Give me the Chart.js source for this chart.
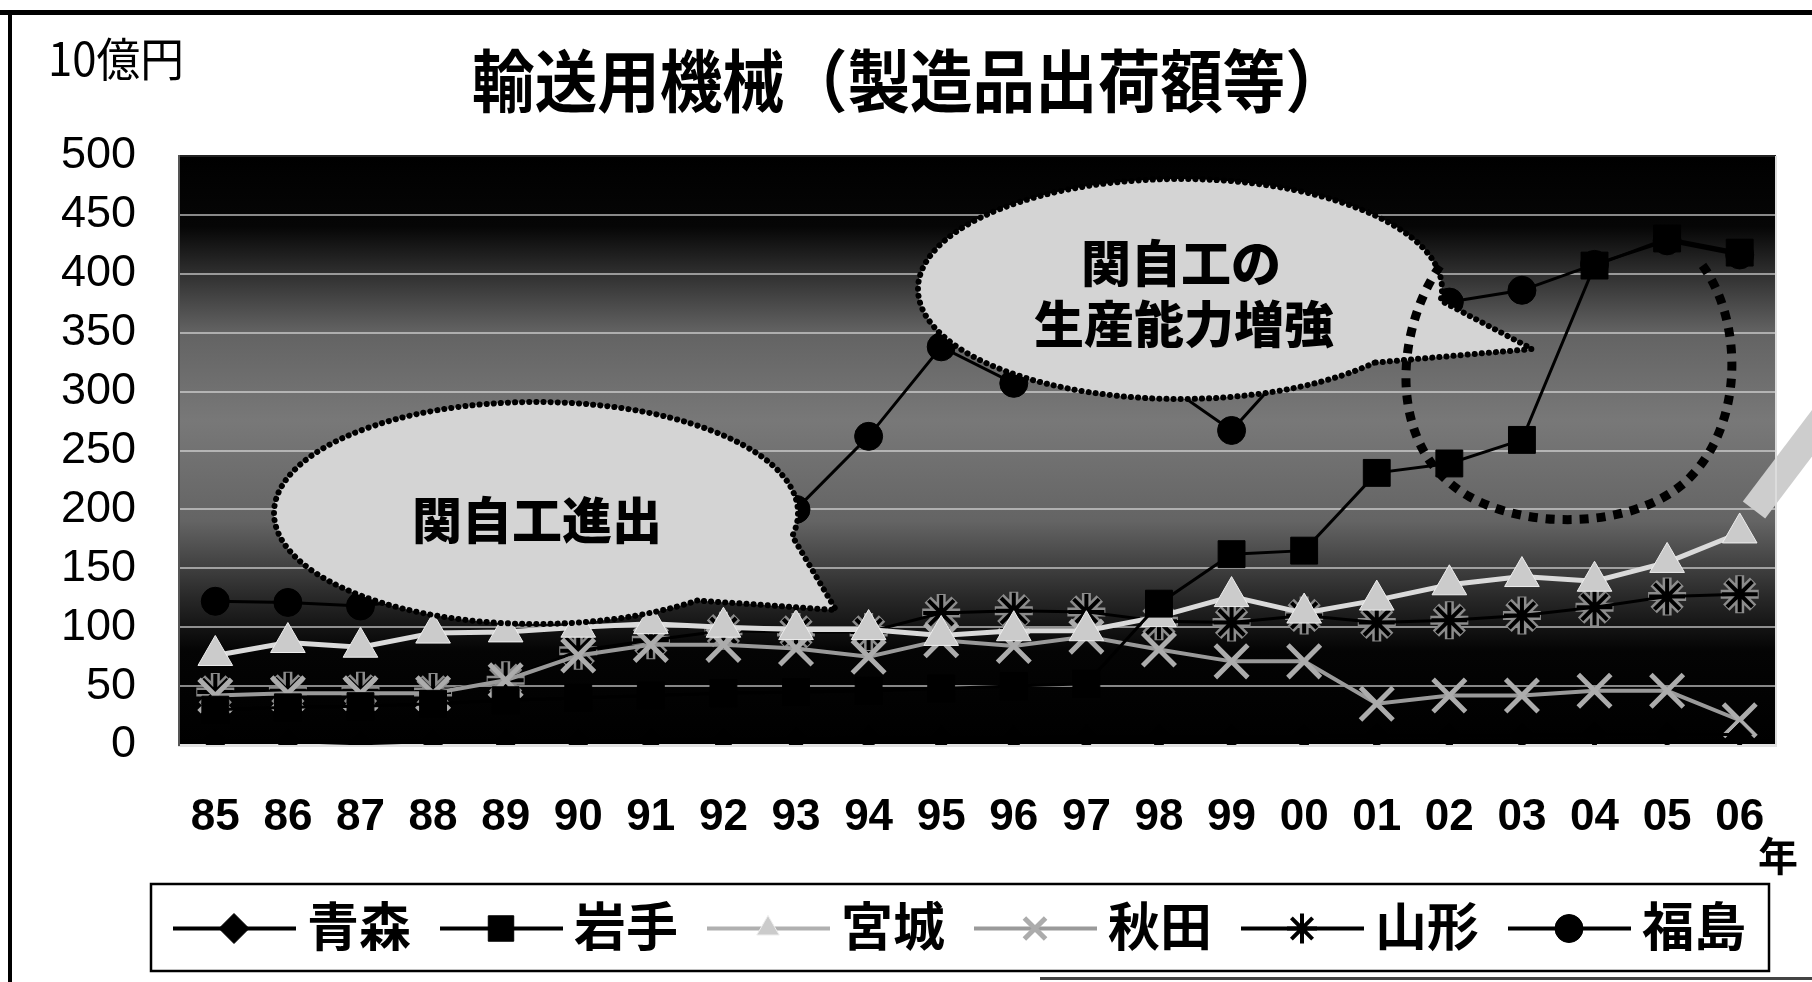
<!DOCTYPE html>
<html lang="ja">
<head>
<meta charset="utf-8">
<title>輸送用機械（製造品出荷額等）</title>
<script src="https://cdn.jsdelivr.net/npm/chart.js@4.4.1/dist/chart.umd.min.js"></script>
<style>
  html, body { margin: 0; padding: 0; background: #fff; }
  #chart { display: block; }
</style>
</head>
<body>
<canvas id="chart" width="1812" height="982"></canvas>
<script>
// 横軸（年）
const years = ['85', '86', '87', '88', '89', '90', '91', '92', '93', '94', '95',
               '96', '97', '98', '99', '00', '01', '02', '03', '04', '05', '06'];

// 県別の出荷額（単位：10億円）
const aomori    = [3, 3, 1, 3, 3, 3, 4, 4, 5, 6, 6, 6, 7, 7, 7, 7, 8, 8, 8, 9, 9, 9];
const iwate     = [30, 32, 33, 35, 38, 40, 42, 44, 45, 46, 48, 50, 52, 120, 162, 165, 231, 239, 259, 407, 430, 418];
const miyagi    = [76, 87, 83, 95, 96, 100, 103, 100, 98, 98, 93, 97, 97, 109, 126, 112, 123, 136, 143, 139, 155, 180];
const akita     = [42, 44, 44, 44, 55, 76, 85, 85, 82, 75, 89, 84, 92, 81, 71, 71, 35, 42, 42, 46, 46, 21];
const yamagata  = [45, 46, 46, 45, 55, 80, 89, 97, 96, 96, 112, 114, 113, 105, 104, 110, 104, 106, 110, 117, 126, 128];
const fukushima = [122, 121, 118, 125, 135, 148, 160, 178, 200, 262, 338, 307, 335, 310, 267, 335, 360, 376, 386, 408, 428, 416];

// 縦軸
const yMin = 0, yMax = 500, yStep = 50;

const prefNames = ['青森', '岩手', '宮城', '秋田', '山形', '福島'];

const CJK = '"Noto Sans CJK JP", "Noto Sans", sans-serif';
const NUM = '"Liberation Sans", Arial, sans-serif';

// 凡例用の線の色と記号の大きさ
const legendLine = ['#000', '#000', '#b0b0b0', '#9a9a9a', '#000', '#000'];
const legendRadius = [15, 18, 13, 15, 15, 14];

// 横に少し詰めた文字
function narrowText(ctx, text, x, y, sx) {
  ctx.save();
  ctx.translate(x, y);
  ctx.scale(sx, 1);
  ctx.fillText(text, 0, 0);
  ctx.restore();
}

// 吹き出し（楕円＋しっぽ）
function drawBubble(ctx, cx, cy, rx, ry, a1, a2, tip) {
  ctx.save();
  ctx.beginPath();
  ctx.ellipse(cx, cy, rx, ry, 0, a2 * Math.PI / 180, a1 * Math.PI / 180 + Math.PI * 2);
  ctx.lineTo(tip[0], tip[1]);
  ctx.closePath();
  ctx.fillStyle = '#d4d4d4';
  ctx.fill();
  ctx.setLineDash([0.1, 7]);
  ctx.lineCap = 'round';
  ctx.lineWidth = 6;
  ctx.strokeStyle = '#000';
  ctx.stroke();
  ctx.restore();
}

const decor = {
  id: 'decor',
  beforeDraw(chart) {
    const { ctx, chartArea: a } = chart;
    ctx.save();
    ctx.fillStyle = '#fff';
    ctx.fillRect(0, 0, chart.width, chart.height);

    // 枠線
    ctx.fillStyle = '#000';
    ctx.fillRect(0, 10, chart.width, 5);
    ctx.fillRect(8, 10, 4, chart.height - 10);
    ctx.fillStyle = '#444';
    ctx.fillRect(1040, 977, chart.width - 1040, 3);

    // プロットエリアのグラデーション
    const g = ctx.createLinearGradient(0, a.top, 0, a.bottom);
    g.addColorStop(0, '#000');
    g.addColorStop(0.12, '#060606');
    g.addColorStop(0.3, '#636363');
    g.addColorStop(0.45, '#787878');
    g.addColorStop(0.62, '#646464');
    g.addColorStop(0.75, '#282828');
    g.addColorStop(0.84, '#040404');
    g.addColorStop(1, '#000');
    ctx.fillStyle = g;
    ctx.fillRect(a.left, a.top, a.right - a.left, a.bottom - a.top);
    ctx.restore();
  },
  afterDatasetsDraw(chart) {
    const { ctx, chartArea: a } = chart;

    drawBubble(ctx, 536, 513, 262, 111, 12, 52, [836, 610]);
    drawBubble(ctx, 1180, 289, 262, 110, 6, 42, [1532, 349]);

    ctx.save();
    ctx.fillStyle = '#000';
    ctx.textAlign = 'center';
    ctx.textBaseline = 'middle';
    ctx.font = `900 50px ${CJK}`;
    ctx.fillText('関自工進出', 537, 520);
    ctx.fillText('関自工の', 1181, 263);
    ctx.fillText('生産能力増強', 1184, 324);

    // 点線の囲み
    ctx.beginPath();
    ctx.moveTo(1440, 266);
    ctx.bezierCurveTo(1395, 330, 1385, 450, 1470, 497);
    ctx.bezierCurveTo(1530, 530, 1630, 528, 1683, 484);
    ctx.bezierCurveTo(1745, 430, 1745, 320, 1700, 262);
    ctx.setLineDash([9, 8]);
    ctx.lineWidth = 9;
    ctx.strokeStyle = '#000';
    ctx.stroke();

    // 宮城を指す矢印
    ctx.setLineDash([]);
    ctx.beginPath();
    ctx.moveTo(1834, 404);
    ctx.lineTo(1754, 510);
    ctx.lineWidth = 28;
    ctx.strokeStyle = '#cdcdcd';
    ctx.stroke();

    // 右端の枠
    ctx.beginPath();
    ctx.moveTo(a.right, a.top);
    ctx.lineTo(a.right, a.bottom);
    ctx.lineWidth = 2;
    ctx.strokeStyle = '#dcdcdc';
    ctx.stroke();
    ctx.restore();
  },
  afterDraw(chart) {
    const ctx = chart.ctx;
    ctx.save();
    ctx.fillStyle = '#000';
    ctx.textBaseline = 'middle';

    ctx.textAlign = 'center';
    ctx.font = `bold 68px ${CJK}`;
    narrowText(ctx, '輸送用機械（製造品出荷額等）', 910, 81, 0.92);

    ctx.textAlign = 'left';
    ctx.font = `46px ${CJK}`;
    narrowText(ctx, '10億円', 48, 59, 0.95);

    ctx.textAlign = 'center';
    ctx.font = `bold 40px ${CJK}`;
    ctx.fillText('年', 1778, 856);

    // 凡例
    const box = { x: 151, y: 884, w: 1618, h: 87 };
    ctx.lineWidth = 2.5;
    ctx.strokeStyle = '#000';
    ctx.strokeRect(box.x, box.y, box.w, box.h);
    const cy = box.y + box.h / 2 + 1;
    prefNames.forEach((name, i) => {
      const ds = chart.data.datasets[i];
      const x0 = 173 + i * 267;
      ctx.beginPath();
      ctx.moveTo(x0, cy);
      ctx.lineTo(x0 + 123, cy);
      ctx.lineWidth = 4;
      ctx.strokeStyle = legendLine[i];
      ctx.stroke();

      ctx.fillStyle = ds.pointBackgroundColor;
      ctx.strokeStyle = ds.pointBorderColor;
      ctx.lineWidth = ds.pointBorderWidth;
      Chart.helpers.drawPoint(ctx, {
        pointStyle: ds.pointStyle,
        radius: legendRadius[i],
        rotation: 0,
        borderWidth: ds.pointBorderWidth
      }, x0 + 61, cy);

      ctx.fillStyle = '#000';
      ctx.textAlign = 'left';
      ctx.font = `bold 52px ${CJK}`;
      ctx.fillText(name, x0 + 134, cy - 2);
    });
    ctx.restore();
  }
};

function series(label, data, opts) {
  return Object.assign({
    label: label,
    data: data,
    fill: false,
    tension: 0,
    pointHoverRadius: 0
  }, opts);
}

new Chart(document.getElementById('chart'), {
  type: 'line',
  data: {
    labels: years,
    datasets: [
      series('青森', aomori, {
        borderColor: '#000', borderWidth: 3,
        pointStyle: 'rectRot', pointRadius: 12,
        pointBackgroundColor: '#000', pointBorderColor: '#000', pointBorderWidth: 1
      }),
      series('岩手', iwate, {
        borderColor: '#000', borderWidth: 3,
        pointStyle: 'rect', pointRadius: 19,
        pointBackgroundColor: '#000', pointBorderColor: '#000', pointBorderWidth: 1
      }),
      series('宮城', miyagi, {
        borderColor: '#dadada', borderWidth: 5,
        pointStyle: 'triangle', pointRadius: 20,
        pointBackgroundColor: '#cbcbcb', pointBorderColor: '#eeeeee', pointBorderWidth: 1
      }),
      series('秋田', akita, {
        borderColor: '#9a9a9a', borderWidth: 4,
        pointStyle: 'crossRot', pointRadius: 23,
        pointBackgroundColor: '#acacac', pointBorderColor: '#acacac', pointBorderWidth: 5
      }),
      series('山形', yamagata, {
        borderColor: '#000', borderWidth: 3,
        pointStyle: 'star', pointRadius: 18,
        pointBackgroundColor: '#000', pointBorderColor: '#000', pointBorderWidth: 4
      }),
      series('福島', fukushima, {
        borderColor: '#000', borderWidth: 3,
        pointStyle: 'circle', pointRadius: 14,
        pointBackgroundColor: '#000', pointBorderColor: '#000', pointBorderWidth: 1
      }),
      // 山形の記号の縁取り（黒地で見えるように）
      series('', yamagata, {
        showLine: false, order: 1,
        pointStyle: 'star', pointRadius: 19,
        pointBackgroundColor: '#8c8c8c', pointBorderColor: '#8c8c8c', pointBorderWidth: 9
      })
    ]
  },
  options: {
    responsive: false,
    animation: false,
    devicePixelRatio: 1,
    layout: { padding: { left: 0, right: 36, top: 156, bottom: 0 } },
    plugins: {
      legend: { display: false },
      tooltip: { enabled: false },
      title: { display: false }
    },
    scales: {
      x: {
        offset: true,
        grid: { display: false, drawTicks: false, offset: true },
        border: { display: true, color: '#e2e2e2', width: 3 },
        ticks: {
          color: '#000',
          padding: 46,
          maxRotation: 0,
          autoSkip: false,
          font: { family: NUM, size: 44, weight: 'bold' }
        },
        afterFit(scale) { scale.height = 237; }
      },
      y: {
        min: yMin,
        max: yMax,
        grid: {
          drawTicks: false,
          lineWidth: 2,
          color: ctx => (ctx.tick && ctx.tick.value === yMax) ? '#222' : 'rgba(225,225,225,0.6)'
        },
        border: { display: true, color: '#555', width: 2 },
        ticks: {
          stepSize: yStep,
          color: '#000',
          padding: 43,
          font: { family: NUM, size: 45 }
        },
        afterFit(scale) { scale.width = 179; }
      }
    }
  },
  plugins: [decor]
});
</script>
</body>
</html>
